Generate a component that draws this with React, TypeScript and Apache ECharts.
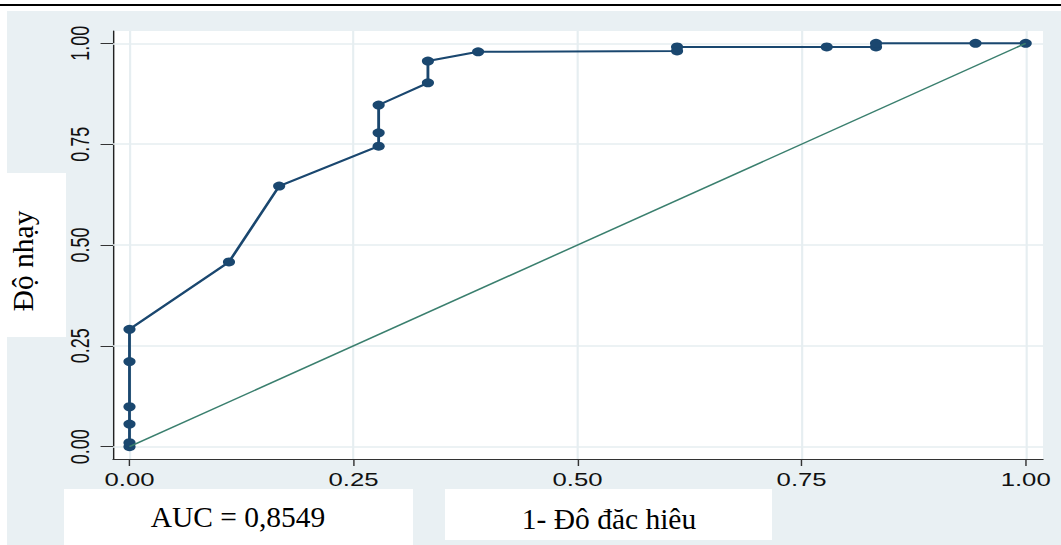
import React, { useEffect, useRef } from "react";
import * as echarts from "echarts";

// ---- data ----
const FPR = [0, 0, 0, 0, 0, 0, 0.111, 0.167, 0.278, 0.278, 0.278, 0.333, 0.333, 0.389, 0.611, 0.611, 0.778, 0.833, 0.833, 0.944, 1];
const SENS = [0, 0.01, 0.056, 0.099, 0.211, 0.291, 0.458, 0.646, 0.745, 0.778, 0.847, 0.902, 0.956, 0.979, 0.981, 0.991, 0.991, 0.991, 1, 1, 1];
const REF_X = [0, 1];
const REF_Y = [0, 1];
const TICKS = [0, 0.25, 0.5, 0.75, 1];
const X_TITLE = "1- Đô đăc hiêu";
const Y_TITLE = "Độ nhạy";
const AUC_TEXT = "AUC = 0,8549";

// ---- layout ----
const W = 1061;
const H = 545;
const W0 = 742; // un-stretched chart width
const S = W / W0; // horizontal stretch of the original Stata graph

const NAVY = "#1a476f";
const GREEN = "#3a7f6e";
const BG = "#e9f0f3";
const GRIDC = "#e6eef1";

export default function App() {
  const ref = useRef<HTMLDivElement>(null);
  useEffect(() => {
    document.documentElement.style.overflow = "hidden";
    const chart = echarts.init(ref.current!, null, { renderer: "svg" });
    const labelStyle = {
      fontSize: 18,
      fontFamily: "Liberation Sans, Arial, sans-serif",
      color: "#111",
    };
    const serif = "Liberation Serif, Times New Roman, serif";
    chart.setOption({
      animation: false,
      backgroundColor: BG,
      grid: {
        left: 113 / S,
        right: W0 - 1043 / S,
        top: 31,
        bottom: H - 459,
        show: true,
        backgroundColor: "#fff",
        borderWidth: 0,
        containLabel: false,
      },
      xAxis: {
        type: "value",
        min: -0.0184,
        max: 1.0193,
        axisLine: { show: true, onZero: false, lineStyle: { color: "#333", width: 1 } },
        axisTick: { show: true, customValues: TICKS, length: 7, lineStyle: { color: "#333" } },
        axisLabel: {
          customValues: TICKS,
          formatter: (v: number) => v.toFixed(2),
          margin: 12,
          ...labelStyle,
        },
        splitLine: { show: false },
      },
      yAxis: {
        type: "value",
        min: -0.0305,
        max: 1.0305,
        axisLine: { show: true, onZero: false, lineStyle: { color: "#222", width: 1 } },
        axisTick: { show: true, customValues: TICKS, length: 8.7, lineStyle: { color: "#333" } },
        axisLabel: {
          customValues: TICKS,
          formatter: (v: number) => v.toFixed(2),
          rotate: 90,
          margin: 14,
          ...labelStyle,
        },
        splitLine: { show: false },
      },
      series: [
        {
          type: "line",
          z: 1,
          data: [[0, 0]],
          symbol: "none",
          silent: true,
          lineStyle: { width: 0 },
          markLine: {
            z: 1,
            silent: true,
            symbol: ["none", "none"],
            label: { show: false },
            emphasis: { disabled: true },
            lineStyle: { type: "solid", color: GRIDC, width: 1.5 },
            data: [
              ...TICKS.map((v) => ({ xAxis: v })),
              ...TICKS.map((v) => ({ yAxis: v })),
            ],
          },
        },
        {
          type: "line",
          z: 3,
          data: FPR.map((x, i) => [x, SENS[i]]),
          symbol: "circle",
          symbolSize: [8.5, 9],
          itemStyle: { color: NAVY },
          lineStyle: { color: NAVY, width: 2 },
        },
        {
          type: "line",
          z: 4,
          data: REF_X.map((x, i) => [x, REF_Y[i]]),
          symbol: "none",
          lineStyle: { color: GREEN, width: 1.4 },
        },
      ],
      graphic: [
        { type: "rect", z: 50, silent: true, shape: { x: 0, y: 0, width: W0, height: 11 }, style: { fill: "#fff" } },
        { type: "rect", z: 50, silent: true, shape: { x: 0, y: 0, width: 7 / S, height: H }, style: { fill: "#fff" } },
        { type: "rect", z: 51, silent: true, shape: { x: 0, y: 4, width: W0, height: 2 }, style: { fill: "#000" } },
        // y title box
        { type: "rect", z: 100, silent: true, shape: { x: 0, y: 173, width: 66 / S, height: 164 }, style: { fill: "#fff" } },
        {
          type: "text", z: 101, silent: true,
          x: 23 / S, y: 261, rotation: Math.PI / 2, scaleY: 1 / S,
          style: { text: Y_TITLE, font: `29.5px ${serif}`, fill: "#000", align: "center", verticalAlign: "middle" },
        },
        // AUC box
        { type: "rect", z: 100, silent: true, shape: { x: 64 / S, y: 489, width: (413 - 64) / S, height: H - 489 }, style: { fill: "#fff" } },
        {
          type: "text", z: 101, silent: true,
          x: 238 / S, y: 517, scaleX: 1 / S,
          style: { text: AUC_TEXT, font: `29.5px ${serif}`, fill: "#000", align: "center", verticalAlign: "middle" },
        },
        // x title box
        { type: "rect", z: 100, silent: true, shape: { x: 445 / S, y: 489, width: (772 - 445) / S, height: 51 }, style: { fill: "#fff" } },
        {
          type: "text", z: 101, silent: true,
          x: 609 / S, y: 519, scaleX: 1 / S,
          style: { text: X_TITLE, font: `29.5px ${serif}`, fill: "#000", align: "center", verticalAlign: "middle" },
        },
      ],
    });
    return () => chart.dispose();
  }, []);
  return (
    <div
      ref={ref}
      style={{
        position: "absolute",
        left: 0,
        top: 0,
        width: W0,
        height: H,
        transform: `scaleX(${S})`,
        transformOrigin: "0 0",
      }}
    />
  );
}
